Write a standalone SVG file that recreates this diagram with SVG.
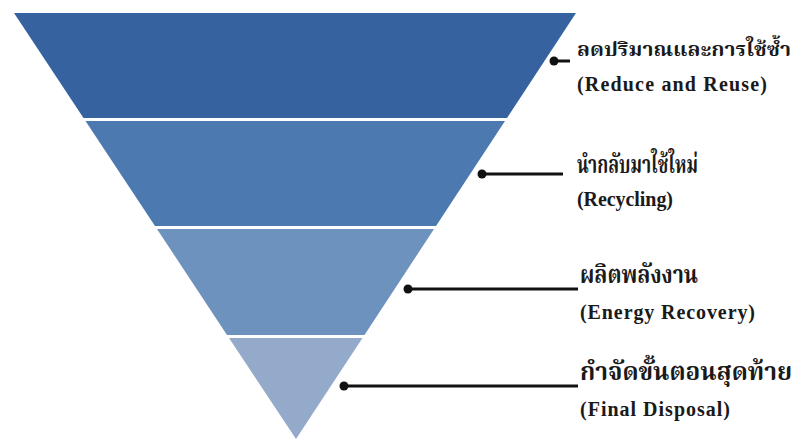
<svg xmlns="http://www.w3.org/2000/svg" width="798" height="439" viewBox="0 0 798 439">
<style>
.th{font-family:"Noto Serif Thai","Noto Sans Thai","Loma","Garuda","Noto Sans",sans-serif;font-size:25px;font-weight:bold;fill:#1a1a1a}
.en{font-family:"Liberation Serif","Times New Roman",serif;font-size:20px;font-weight:bold;fill:#1a1a1a}
.ln{stroke:#111;stroke-width:3;fill:none}
.dot{fill:#111}
</style>
<rect width="798" height="439" fill="#ffffff"/>
<g id="level1"><polygon points="14,13 576,13 507,118 83.5,118" fill="#3762A0"/></g>
<g id="level2"><polygon points="85.5,121 505,121 436,226 155,226" fill="#4C7AB0"/></g>
<g id="level3"><polygon points="157,229 434,229 364.5,335 227,335" fill="#6E92BE"/></g>
<g id="level4"><polygon points="229,338 362.5,338 296,439" fill="#94AACB"/></g>
<g id="connectors">
<line class="ln" x1="554" y1="61" x2="570" y2="61"/><circle class="dot" cx="554" cy="61" r="4.5"/>
<line class="ln" x1="482" y1="174" x2="563" y2="174"/><circle class="dot" cx="482" cy="174" r="4.5"/>
<line class="ln" x1="408" y1="289" x2="578" y2="289"/><circle class="dot" cx="408" cy="289" r="4.5"/>
<line class="ln" x1="344" y1="386" x2="578" y2="386"/><circle class="dot" cx="344" cy="386" r="4.5"/>
</g>
<g id="label1">
<text class="th" x="577" y="56" style="font-size:20px" textLength="214" lengthAdjust="spacingAndGlyphs">ลดปริมาณและการใช้ซ้ำ</text>
<text class="en" x="577" y="91" textLength="190" lengthAdjust="spacing">(Reduce and Reuse)</text>
</g>
<g id="label2">
<text class="th" x="577" y="173" textLength="121" lengthAdjust="spacingAndGlyphs">นำกลับมาใช้ใหม่</text>
<text class="en" x="577" y="206" textLength="96" lengthAdjust="spacing">(Recycling)</text>
</g>
<g id="label3">
<text class="th" x="580" y="283" textLength="118" lengthAdjust="spacingAndGlyphs">ผลิตพลังงาน</text>
<text class="en" x="580" y="319" textLength="175" lengthAdjust="spacing">(Energy Recovery)</text>
</g>
<g id="label4">
<text class="th" x="580" y="380" style="font-size:24px" textLength="212" lengthAdjust="spacingAndGlyphs">กำจัดขั้นตอนสุดท้าย</text>
<text class="en" x="580" y="416" textLength="150" lengthAdjust="spacing">(Final Disposal)</text>
</g>
</svg>
